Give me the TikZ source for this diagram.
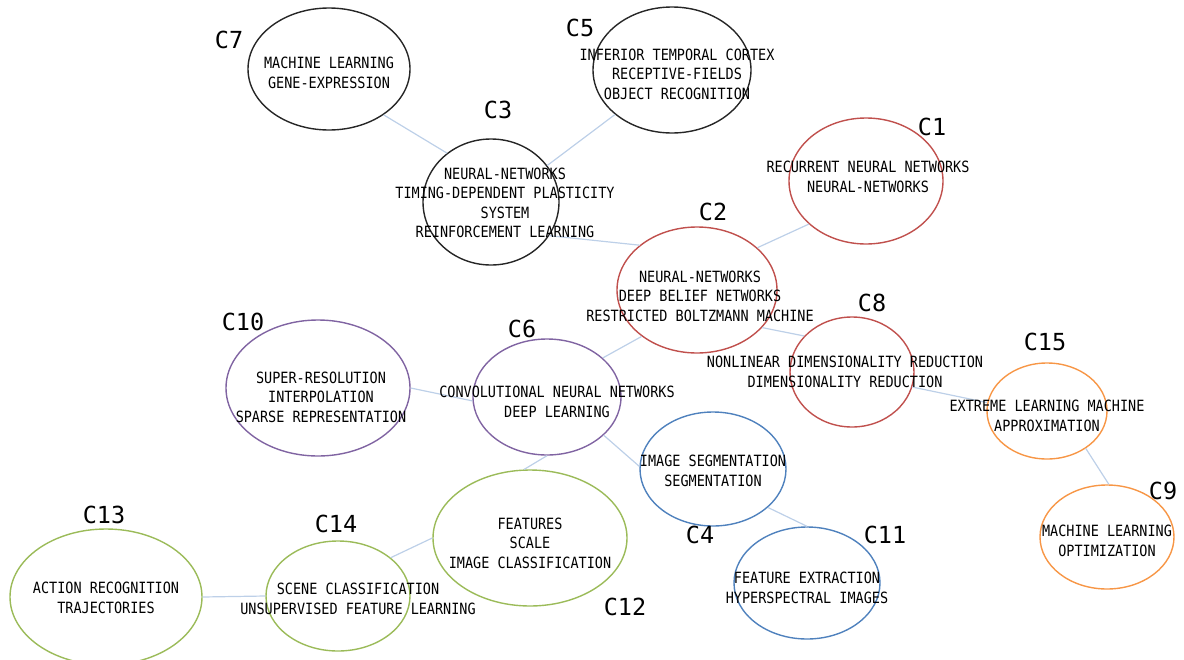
\documentclass[tikz,border=0pt]{standalone}
\usepackage{fontspec}
\newfontfamily\clufont{DejaVu Sans Mono}[FakeStretch=0.87]
\newfontfamily\tagfont{DejaVu Sans Mono}
\usetikzlibrary{shapes.geometric}
\definecolor{cblack}{HTML}{262626}
\definecolor{cred}{HTML}{C0504D}
\definecolor{cpurple}{HTML}{8064A2}
\definecolor{cblue}{HTML}{4F81BD}
\definecolor{cgreen}{HTML}{9BBB59}
\definecolor{corange}{HTML}{F79646}
\definecolor{clink}{HTML}{BDD0E8}
\tikzset{
  clu/.style={ellipse, draw, line width=1.4pt, inner sep=0pt},
  terms/.style={font=\clufont\fontsize{15.5}{19.5}\selectfont, align=center, inner sep=0pt},
  tag/.style={font=\tagfont\fontsize{23.5}{26}\selectfont, inner sep=0pt},
  link/.style={draw=clink, line width=1.2pt}
}
\begin{document}
\begin{tikzpicture}[x=1pt,y=-1pt]
        \useasboundingbox (0,0) rectangle (1184,659);
        \node [clu, draw=cblack, minimum width=162, minimum height=122] (c7) at (329,69) {};
        \node [clu, draw=cblack, minimum width=158, minimum height=126] (c5) at (672,70) {};
        \node [clu, draw=cblack, minimum width=136, minimum height=126] (c3) at (491,202) {};
        \node [clu, draw=cred, minimum width=154, minimum height=126] (c1) at (866,181) {};
        \node [clu, draw=cred, minimum width=160, minimum height=126] (c2) at (697,290) {};
        \node [clu, draw=cred, minimum width=124, minimum height=110] (c8) at (852,372) {};
        \node [clu, draw=corange, minimum width=120, minimum height=96] (c15) at (1047,411) {};
        \node [clu, draw=corange, minimum width=134, minimum height=104] (c9) at (1107,537) {};
        \node [clu, draw=cpurple, minimum width=184, minimum height=136] (c10) at (318,388) {};
        \node [clu, draw=cpurple, minimum width=148, minimum height=116] (c6) at (547,397) {};
        \node [clu, draw=cblue, minimum width=146, minimum height=114] (c4) at (713,469) {};
        \node [clu, draw=cblue, minimum width=146, minimum height=112] (c11) at (807,583) {};
        \node [clu, draw=cgreen, minimum width=194, minimum height=136] (c12) at (530,538) {};
        \node [clu, draw=cgreen, minimum width=144, minimum height=110] (c14) at (338,596) {};
        \node [clu, draw=cgreen, minimum width=192, minimum height=136] (c13) at (106,597) {};
        \draw [link] (c7.-40) to (c3.132);
        \draw [link] (c5.218) to (c3.33);
        \draw [link] (c3.-30) to (c2.142);
        \draw [link] (c1.217) to (c2.35);
        \draw [link] (c2.-30) to (c8.143);
        \draw [link] (c2.220) to (c6.35);
        \draw [link] (c8.-14) to (c15.172);
        \draw [link] (c15.-44) to (c9.88);
        \draw [link] (c10.0) to (c6.-177);
        \draw [link] (c6.-34) to (c4.178);
        \draw [link] (c6.-90) to (c12.95);
        \draw [link] (c4.-35) to (c11.90);
        \draw [link] (c12.180) to (c14.36);
        \draw [link] (c13.0) to (c14.180);
        \node [terms] (t7) at (329,73) {MACHINE LEARNING\\GENE-EXPRESSION};
        \node [terms] (t5) at (677,74) {INFERIOR TEMPORAL CORTEX\\RECEPTIVE-FIELDS\\OBJECT RECOGNITION};
        \node [terms] (t3) at (505,203) {NEURAL-NETWORKS\\TIMING-DEPENDENT PLASTICITY\\SYSTEM\\REINFORCEMENT LEARNING};
        \node [terms] (t1) at (868,177) {RECURRENT NEURAL NETWORKS\\NEURAL-NETWORKS};
        \node [terms] (t2) at (700,296) {NEURAL-NETWORKS\\DEEP BELIEF NETWORKS\\RESTRICTED BOLTZMANN MACHINE};
        \node [terms] (t8) at (845,372) {NONLINEAR DIMENSIONALITY REDUCTION\\DIMENSIONALITY REDUCTION};
        \node [terms] (t15) at (1047,416) {EXTREME LEARNING MACHINE\\APPROXIMATION};
        \node [terms] (t9) at (1107,541) {MACHINE LEARNING\\OPTIMIZATION};
        \node [terms] (t10) at (321,397) {SUPER-RESOLUTION\\INTERPOLATION\\SPARSE REPRESENTATION};
        \node [terms] (t6) at (557,402) {CONVOLUTIONAL NEURAL NETWORKS\\DEEP LEARNING};
        \node [terms] (t4) at (713,471) {IMAGE SEGMENTATION\\SEGMENTATION};
        \node [terms] (t11) at (807,588) {FEATURE EXTRACTION\\HYPERSPECTRAL IMAGES};
        \node [terms] (t12) at (530,543) {FEATURES\\SCALE\\IMAGE CLASSIFICATION};
        \node [terms] (t14) at (358,599) {SCENE CLASSIFICATION\\UNSUPERVISED FEATURE LEARNING};
        \node [terms] (t13) at (106,598) {ACTION RECOGNITION\\TRAJECTORIES};
        \node [tag] (l7) at (229,40) {C7};
        \node [tag] (l5) at (580,28) {C5};
        \node [tag] (l3) at (498,110) {C3};
        \node [tag] (l1) at (932,127) {C1};
        \node [tag] (l2) at (713,212) {C2};
        \node [tag] (l8) at (872,303) {C8};
        \node [tag] (l15) at (1045,342) {C15};
        \node [tag] (l9) at (1163,491) {C9};
        \node [tag] (l10) at (243,322) {C10};
        \node [tag] (l6) at (522,329) {C6};
        \node [tag] (l4) at (700,535) {C4};
        \node [tag] (l11) at (885,535) {C11};
        \node [tag] (l12) at (625,607) {C12};
        \node [tag] (l14) at (336,524) {C14};
        \node [tag] (l13) at (104,515) {C13};
\end{tikzpicture}
\end{document}
